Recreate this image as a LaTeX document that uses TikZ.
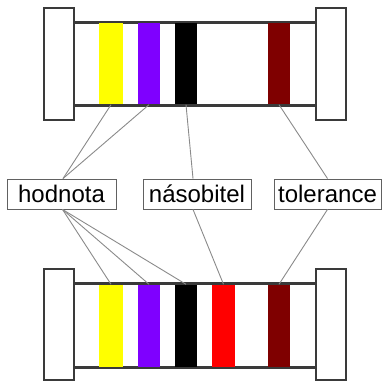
\documentclass[tikz,border=0pt]{standalone}
\usepackage{fontspec}
\setmainfont{Liberation Sans}
\definecolor{outline}{HTML}{3A3A3A}
\definecolor{wire}{HTML}{8A8A8A}
\definecolor{bandyellow}{HTML}{FFFF00}
\definecolor{bandviolet}{HTML}{7F00FF}
\definecolor{bandred}{HTML}{FF0000}
\definecolor{bandbrown}{HTML}{7F0000}
\begin{document}
\begin{tikzpicture}[x=1pt,y=-1pt,
  endcap/.style={draw=outline,fill=white,line width=1.6pt,inner sep=0pt,
    minimum width=30pt,minimum height=112pt},
  body/.style={draw=outline,fill=white,line width=1.6pt,inner sep=0pt,
    minimum width=242pt,minimum height=82pt},
  band/.style={fill=#1,inner sep=0pt,minimum width=22pt,minimum height=81pt},
  label/.style={draw=outline!80,line width=0.9pt,fill=white,inner sep=0pt,
    minimum width=108pt,minimum height=30pt,
    font=\fontsize{24}{28}\selectfont},
  wire/.style={draw=wire,line width=0.9pt}]
\useasboundingbox (0,0) rectangle (382,382);

% upper resistor: four bands
\node[body] (tbody) at (195,64) {};
\node[band=bandyellow,minimum width=24pt] (ta) at (111,64) {};
\node[band=bandviolet] (tb) at (149,64) {};
\node[band=black] (tc) at (186,64) {};
\node[band=bandbrown] (td) at (279,64) {};
\draw[outline,line width=1.6pt] (tbody.north west) -- (tbody.north east)
  (tbody.south west) -- (tbody.south east);
\node[endcap] (tleft) at (59,64) {};
\node[endcap] (tright) at (331,64) {};

% lower resistor: five bands
\node[body,minimum height=83pt] (bbody) at (195,325.5) {};
\node[band=bandyellow,minimum width=24pt,minimum height=82pt] (ba) at (111,325.5) {};
\node[band=bandviolet,minimum height=82pt] (bb) at (149,325.5) {};
\node[band=black,minimum height=82pt] (bc) at (186,325.5) {};
\node[band=bandred,minimum width=23pt,minimum height=82pt] (bd) at (223.5,325.5) {};
\node[band=bandbrown,minimum height=82pt] (be) at (279,325.5) {};
\draw[outline,line width=1.6pt] (bbody.north west) -- (bbody.north east)
  (bbody.south west) -- (bbody.south east);
\node[endcap,minimum height=111pt] (bleft) at (59,324.5) {};
\node[endcap,minimum height=111pt] (bright) at (331,324.5) {};

% labels
\node[label,minimum width=109pt] (hodnota) at (61.5,194) {hodnota};
\node[label] (nasobitel) at (197,194) {násobitel};
\node[label,minimum width=107pt] (tolerance) at (327.5,194) {tolerance};

% connectors
\coordinate (hn) at ([xshift=1.5pt]hodnota.north);
\coordinate (hs) at ([xshift=1pt]hodnota.south);
\coordinate (nn) at ([xshift=-4pt]nasobitel.north);
\coordinate (ns) at ([xshift=-4pt]nasobitel.south);
\draw[wire] (ta.south) -- (hn);
\draw[wire] (tb.south) -- (hn);
\draw[wire] (tc.south) -- (nn);
\draw[wire] (td.south) -- (tolerance.north);
\draw[wire] (hs) -- (ba.north);
\draw[wire] (hs) -- (bb.north);
\draw[wire] (hs) -- (bc.north);
\draw[wire] (ns) -- (bd.north);
\draw[wire] (tolerance.south) -- (be.north);
\end{tikzpicture}
\end{document}
